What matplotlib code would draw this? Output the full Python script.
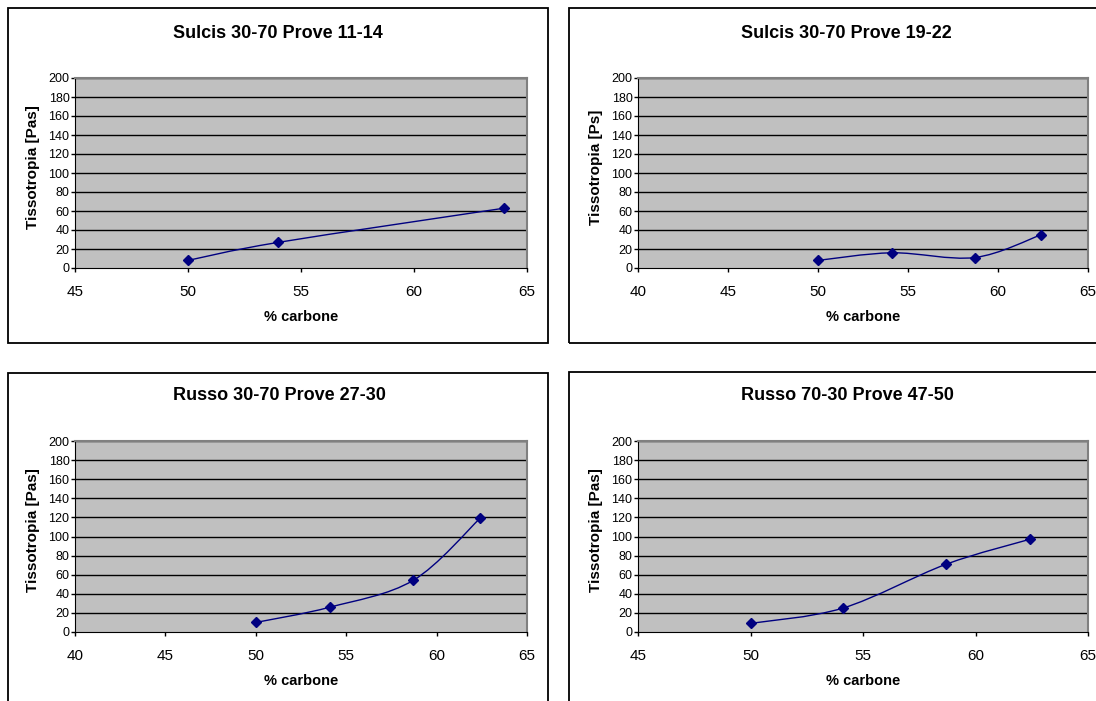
import matplotlib
matplotlib.use("Agg")
import matplotlib.pyplot as plt
from matplotlib.path import Path
from matplotlib.patches import PathPatch, Rectangle
import numpy as np

plt.rcParams['font.family'] = ['Liberation Sans', 'DejaVu Sans']

titles = ["Sulcis 30-70 Prove 11-14", "Sulcis 30-70 Prove 19-22",
          "Russo 30-70 Prove 27-30", "Russo 70-30 Prove 47-50"]
ylabels = ["Tissotropia [Pas]", "Tissotropia [Ps]",
           "Tissotropia [Pas]", "Tissotropia [Pas]"]
xlabel = "% carbone"

x1 = [50.0, 54.0, 64.0]
y1 = [8, 27, 63]
x2 = [50.0, 54.1, 58.7, 62.4]
y2 = [8, 16, 11, 35]
x3 = [50.0, 54.1, 58.7, 62.4]
y3 = [10, 26, 54, 119]
x4 = [50.0, 54.1, 58.7, 62.4]
y4 = [9, 25, 71, 97]

xlims = [(45, 65), (40, 65), (40, 65), (45, 65)]
yticks = list(range(0, 201, 20))

W, H = 1096, 701
fig = plt.figure(figsize=(W / 100, H / 100), dpi=100)


def fx(px):
    return px / W


def fy(py):
    return 1 - py / H


# panel frames (px): left, top, right, bottom
frames = [(8, 8, 548, 343), (569, 8, 1110, 343),
          (8, 373, 548, 720), (569, 372, 1110, 720)]
for (l, t, r, b) in frames:
    fig.add_artist(Rectangle((fx(l), fy(b)), fx(r - l), (b - t) / H,
                             transform=fig.transFigure, fill=False,
                             edgecolor='black', linewidth=1.3, zorder=0))

# plot areas (px): left, top, right, bottom
areas = [(75, 78, 527, 268), (638, 78, 1088, 268),
         (75, 441, 527, 632), (638, 441, 1088, 632)]
title_y = [33, 33, 396, 395]
title_x = [278, 846, 279, 847]
xlabel_y = [317, 317, 681, 681]
ylabel_x = [33, 596, 33, 596]

datasets = [(x1, y1), (x2, y2), (x3, y3), (x4, y4)]


def smooth_path(ax, xs, ys):
    # Bezier smoothing in display space, like a spreadsheet "smoothed line"
    pts = ax.transData.transform(np.column_stack([xs, ys]))
    n = len(pts)
    verts = [pts[0]]
    codes = [Path.MOVETO]
    for i in range(n - 1):
        p0 = pts[i - 1] if i > 0 else pts[i]
        p1 = pts[i]
        p2 = pts[i + 1]
        p3 = pts[i + 2] if i + 2 < n else pts[i + 1]
        c1 = p1 + (p2 - p0) / 6.0
        c2 = p2 - (p3 - p1) / 6.0
        verts += [c1, c2, p2]
        codes += [Path.CURVE4] * 3
    return Path(verts, codes)


for i in range(4):
    l, t, r, b = areas[i]
    ax = fig.add_axes([fx(l), fy(b), fx(r - l), (b - t) / H])
    ax.set_facecolor('#C0C0C0')
    ax.set_xlim(*xlims[i])
    ax.set_ylim(0, 200)
    ax.set_yticks(yticks)
    ax.set_xticks(range(xlims[i][0], xlims[i][1] + 1, 5))
    for v in yticks[1:]:
        ax.axhline(v, color='black', linewidth=1.0, zorder=1)
    ax.spines['top'].set_color('#808080')
    ax.spines['right'].set_color('#808080')
    ax.spines['top'].set_linewidth(1.5)
    ax.spines['right'].set_linewidth(1.5)
    ax.spines['left'].set_color('black')
    ax.spines['bottom'].set_color('black')
    ax.tick_params(axis='y', direction='out', length=3, width=1, labelsize=9, pad=1)
    ax.tick_params(axis='x', direction='out', length=3, width=1, labelsize=11, pad=9)
    xs, ys = datasets[i]
    fig.canvas.draw()
    path = smooth_path(ax, xs, ys)
    ax.add_patch(PathPatch(path, transform=None, facecolor='none',
                           edgecolor='#000080', linewidth=1.0, zorder=3))
    ax.plot(xs, ys, linestyle='none', marker='D', markersize=5.5,
            color='#000080', zorder=4, clip_on=False)
    fig.text(fx(title_x[i]), fy(title_y[i]), titles[i], ha='center', va='center',
             fontsize=13, fontweight='bold')
    fig.text(fx((l + r) / 2), fy(xlabel_y[i]), xlabel, ha='center', va='center',
             fontsize=10.5, fontweight='bold')
    fig.text(fx(ylabel_x[i]), fy((t + b) / 2 - 6), ylabels[i], ha='center', va='center',
             rotation=90, fontsize=11, fontweight='bold')

fig.savefig('out.png', dpi=100)
